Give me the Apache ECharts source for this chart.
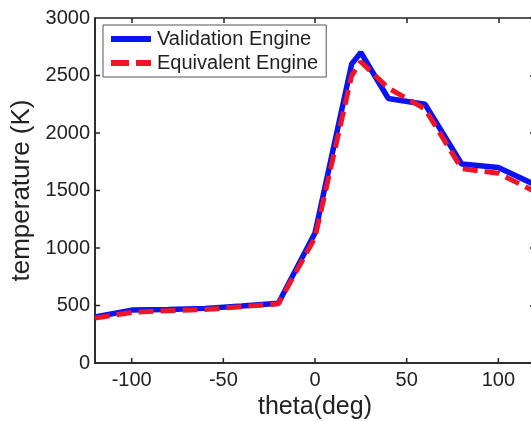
<!DOCTYPE html>
<html>
<head>
<meta charset="utf-8">
<script src="https://cdn.jsdelivr.net/npm/echarts@6/dist/echarts.min.js"></script>
<style>
  html, body { margin: 0; padding: 0; background: #fff; }
  #chart { width: 531px; height: 421px; }
</style>
</head>
<body>
<div id="chart"></div>
<script>
// theta (deg) sample points
var theta = [-120, -100, -80, -60, -40, -20, 0, 20, 25, 40, 60, 80, 100, 120];
// temperature (K)
var validation = [400, 460, 465, 475, 495, 520, 1130, 2600, 2700, 2300, 2250, 1730, 1700, 1550];
var equivalent = [390, 440, 455, 465, 490, 515, 1090, 2500, 2620, 2390, 2210, 1690, 1650, 1490];
var xTicks = [-100, -50, 0, 50, 100];
var yTicks = [500, 1000, 1500, 2000, 2500];

function pairs(xs, ys) {
  return xs.map(function (x, i) { return [x, ys[i]]; });
}

var font = "Liberation Sans, Arial, sans-serif";
var blue = "#0a14f0";
var red = "#f01428";
var blank = function () { return ""; };
var tickLen = 5;

// tick-only axes for the top and right edges of the box
function xTickAxis() {
  return {
    type: "value", position: "top", min: -120, max: 120,
    axisLine: { show: false, onZero: false },
    axisTick: { show: true, inside: true, length: tickLen, customValues: xTicks, lineStyle: { color: "#222", width: 1.5 } },
    axisLabel: { show: true, customValues: xTicks, formatter: blank },
    splitLine: { show: false }
  };
}
function yTickAxis() {
  return {
    type: "value", position: "right", min: 0, max: 3000, interval: 500,
    axisLine: { show: false, onZero: false },
    axisTick: { show: true, inside: true, length: tickLen, lineStyle: { color: "#222", width: 1.5 } },
    axisLabel: { show: true, formatter: blank },
    splitLine: { show: false }
  };
}

// inner ticks on the bottom / left edges, placed through the axes' scales
function tickSeries(data, dx, dy) {
  return {
    type: "custom",
    silent: true,
    clip: false,
    data: data,
    renderItem: function (params, api) {
      var p = api.coord([api.value(0), api.value(1)]);
      return {
        type: "line",
        shape: { x1: p[0], y1: p[1], x2: p[0] + dx, y2: p[1] + dy },
        style: { stroke: "#222", lineWidth: 1.5 }
      };
    }
  };
}

var chart = echarts.init(document.getElementById("chart"));
var option = {
  animation: false,
  grid: {
    left: 95, top: 18, right: -4, bottom: 58,
    outerBoundsMode: "none",
    show: true, borderColor: "#222", borderWidth: 1.5
  },
  legend: {
    orient: "vertical",
    left: 103,
    top: 25,
    padding: [4, 8, 4, 8],
    itemGap: 4,
    itemWidth: 40,
    itemHeight: 6,
    borderColor: "#555",
    borderWidth: 1,
    backgroundColor: "#fff",
    textStyle: { fontFamily: font, fontSize: 20, color: "#222", padding: [0, 0, 0, 1] },
    data: [
      { name: "Validation Engine", icon: "path://M0,0H40V6H0Z", itemStyle: { color: blue } },
      { name: "Equivalent Engine", icon: "path://M0,0H18V6H0ZM25,0H40V6H25Z", itemStyle: { color: red } }
    ]
  },
  xAxis: [{
    type: "value",
    min: -120,
    max: 120,
    name: "theta(deg)",
    nameLocation: "middle",
    nameGap: 29,
    nameTextStyle: { fontFamily: font, fontSize: 25, color: "#222" },
    axisLine: { show: true, onZero: false, lineStyle: { color: "#222", width: 1.5 } },
    axisTick: { show: false },
    axisLabel: { customValues: xTicks, fontFamily: font, fontSize: 20, color: "#222", margin: 7 },
    splitLine: { show: false }
  }, xTickAxis()],
  yAxis: [{
    type: "value",
    min: 0,
    max: 3000,
    interval: 500,
    name: "temperature (K)",
    nameLocation: "middle",
    nameGap: 46,
    nameTextStyle: { fontFamily: font, fontSize: 26, color: "#222" },
    axisLine: { show: true, onZero: false, lineStyle: { color: "#222", width: 1.5 } },
    axisTick: { show: false },
    axisLabel: { fontFamily: font, fontSize: 20, color: "#222", margin: 5, formatter: function (v) { return String(v); } },
    splitLine: { show: false }
  }, yTickAxis()],
  series: [{
    name: "Validation Engine",
    type: "line",
    data: pairs(theta, validation),
    symbol: "none",
    color: blue,
    lineStyle: { width: 5.5, color: blue }
  }, {
    name: "Equivalent Engine",
    type: "line",
    data: pairs(theta, equivalent),
    symbol: "none",
    color: red,
    lineStyle: { width: 5, color: red, type: [15, 7] }
  },
  tickSeries(xTicks.map(function (v) { return [v, 0]; }), 0, -tickLen),
  tickSeries(yTicks.map(function (v) { return [-120, v]; }), tickLen, 0)]
};
chart.setOption(option);
</script>
</body>
</html>
